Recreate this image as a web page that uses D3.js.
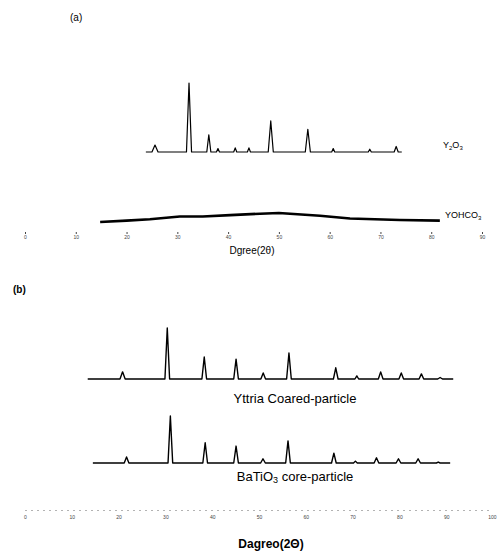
<!DOCTYPE html>
<html><head><meta charset="utf-8">
<script src="https://cdn.jsdelivr.net/npm/d3@7/dist/d3.min.js"></script>
<style>body{margin:0;background:#fff}svg{display:block}</style>
</head><body>
<script>
// ---- data (2θ in degrees, relative intensity 0-100) ----
const ticksA = [0,10,20,30,40,50,60,70,80,90];
const ticksB = [0,10,20,30,40,50,60,70,80,90,100];
const y2o3 = [[23.8,0],[25.0,0],[25.6,10],[26.2,0],[31.8,0],[32.3,100],[32.8,0],[35.8,0],[36.2,25],[36.6,0],[37.7,0],[38.0,5],[38.3,0],[41.1,0],[41.4,6],[41.7,0],[43.8,0],[44.1,6],[44.4,0],[47.9,0],[48.4,45],[48.9,0],[55.2,0],[55.7,33],[56.2,0],[60.4,0],[60.7,5],[61.0,0],[67.6,0],[67.9,4],[68.2,0],[72.7,0],[73.1,8],[73.5,0],[74.2,0]];
const yohco3 = [[14.8,0],[20.0,2],[24.6,4],[30.5,8],[35.0,8],[40.4,10],[46.3,12],[50.0,13],[52.2,12],[58.1,9],[64.0,5],[73.8,3],[81.7,2]];
const yttria = [[13.4,0],[20.3,0],[20.85,14],[21.4,0],[29.9,0],[30.4,100],[30.9,0],[37.8,0],[38.3,43],[38.8,0],[44.6,0],[45.1,39],[45.6,0],[50.4,0],[50.9,12],[51.4,0],[55.9,0],[56.4,51],[56.9,0],[65.9,0],[66.4,22],[66.9,0],[70.5,0],[70.9,6],[71.3,0],[75.5,0],[76.0,14],[76.5,0],[79.9,0],[80.4,12],[80.9,0],[84.2,0],[84.7,10],[85.2,0],[88.2,0],[88.7,3],[89.2,0],[91.5,0]];
const batio3 = [[14.5,0],[21.2,0],[21.7,13],[22.2,0],[30.56,0],[31.06,100],[31.56,0],[38.0,0],[38.5,43],[39.0,0],[44.6,0],[45.1,36],[45.6,0],[50.35,0],[50.85,9],[51.35,0],[55.7,0],[56.2,47],[56.7,0],[65.5,0],[66.0,21],[66.5,0],[70.2,0],[70.6,4],[71.0,0],[74.6,0],[75.1,11],[75.6,0],[79.3,0],[79.8,9],[80.3,0],[83.5,0],[84.0,9],[84.5,0],[87.9,0],[88.3,2],[88.7,0],[90.85,0]];

const W = 498, H = 554;
const svg = d3.select("body").append("svg").attr("width",W).attr("height",H);
const font = "Arial, 'Liberation Sans', sans-serif";

// scales
const xA = d3.scaleLinear().domain([0,90]).range([25,482]);
const xB = d3.scaleLinear().domain([0,100]).range([25,493]);
const yY2 = d3.scaleLinear().domain([0,100]).range([152,83]);
const yYO = d3.scaleLinear().domain([0,100]).range([222,153]);
const yYt = d3.scaleLinear().domain([0,100]).range([379,328]);
const yBa = d3.scaleLinear().domain([0,100]).range([463,416]);

function draw(data, xs, ys, w){
  svg.append("path").datum(data)
    .attr("d", d3.line().x(d=>xs(d[0])).y(d=>ys(d[1])))
    .attr("fill","none").attr("stroke","#000").attr("stroke-width",w)
    .attr("stroke-linejoin","round");
}
draw(y2o3, xA, yY2, 1.2);
draw(yohco3, xA, yYO, 2.6);
draw(yttria, xB, yYt, 1.4);
draw(batio3, xB, yBa, 1.4);

// panel (a) axis: ticks only
const axA = d3.axisBottom(xA).tickValues(ticksA).tickSize(2).tickPadding(1);
const gA = svg.append("g").attr("transform","translate(0,232)").call(axA);
gA.select(".domain").remove();
gA.selectAll("text").attr("font-size",5).attr("fill","#444").attr("font-family",font);
gA.selectAll("line").attr("stroke","#444");

// panel (b) axis: dotted line
const axB = d3.axisBottom(xB).tickValues(ticksB).tickSize(0).tickPadding(5);
const gB = svg.append("g").attr("transform","translate(0,510)").call(axB);
gB.select(".domain").attr("stroke","#666").attr("stroke-dasharray","1,5");
gB.selectAll("text").attr("font-size",5).attr("fill","#444").attr("font-family",font);
gB.selectAll(".tick").filter(d=>d===100).select("text").attr("text-anchor","end").attr("x",3);

// texts
function txt(x,y,s,size,weight,anchor){
  return svg.append("text").attr("x",x).attr("y",y).attr("font-family",font)
    .attr("font-size",size).attr("font-weight",weight||"normal")
    .attr("text-anchor",anchor||"start").attr("dominant-baseline","middle").text(s);
}
txt(70,18,"(a)",10);
txt(13,290,"(b)",10,"bold");
const t1 = txt(443,146,"Y",9);
t1.append("tspan").attr("font-size",6).attr("dy",2).text("2");
t1.append("tspan").attr("dy",-2).text("O");
t1.append("tspan").attr("font-size",6).attr("dy",2).text("3");
const t2 = txt(445,216,"YOHCO",9);
t2.append("tspan").attr("font-size",6).attr("dy",2).text("3");
txt(252,251,"Dgree(2θ)",10,"normal","middle");
txt(295,400,"Yttria Coared-particle",13,"normal","middle");
const t3 = txt(295,478,"BaTiO",13,"normal","middle");
t3.append("tspan").attr("font-size",9).attr("dy",3).text("3");
t3.append("tspan").attr("dy",-3).text(" core-particle");
txt(271,545,"Dagreo(2Θ)",12,"bold","middle");
</script>
</body></html>
